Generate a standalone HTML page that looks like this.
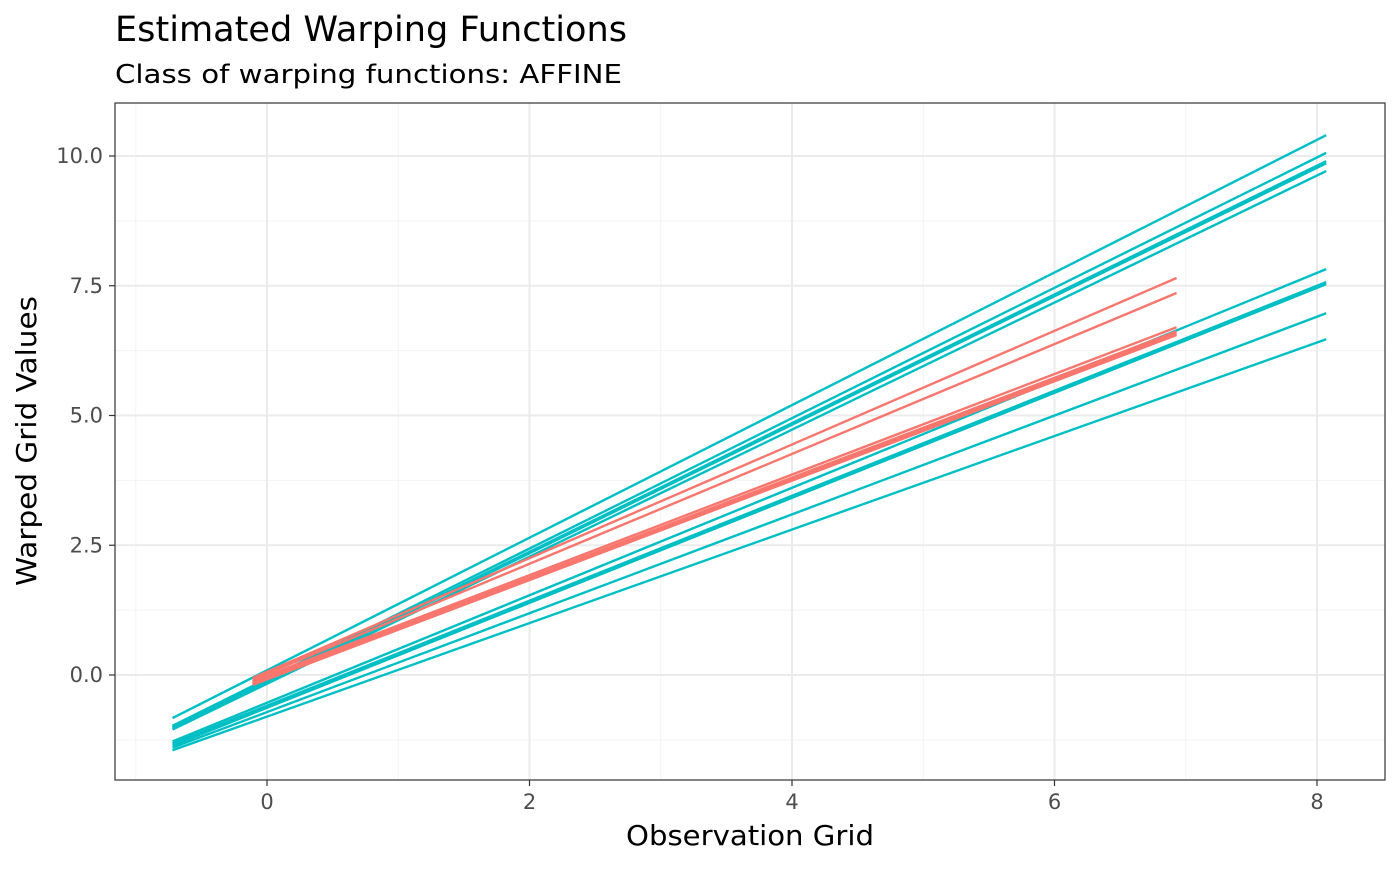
<!DOCTYPE html>
<html><head><meta charset="utf-8"><style>
body{margin:0;background:#fff;font-family:"Liberation Sans","DejaVu Sans",sans-serif}
</style></head><body>
<svg width="1400" height="866" xmlns="http://www.w3.org/2000/svg">
<text x="115" y="41" font-size="35" fill="#000" font-family="DejaVu Sans, sans-serif" textLength="512" lengthAdjust="spacingAndGlyphs">Estimated Warping Functions</text>
<text x="115" y="83" font-size="26" fill="#000" font-family="DejaVu Sans, sans-serif" textLength="507" lengthAdjust="spacingAndGlyphs">Class of warping functions: AFFINE</text>
<g id="grid"></g><g id="lines"></g>
<rect x="115" y="103" width="1270" height="677" fill="none" stroke="#333" stroke-width="1.2"/>
<g id="ticks"></g>
<text x="750" y="845" font-size="28" text-anchor="middle" font-family="DejaVu Sans, sans-serif" textLength="248" lengthAdjust="spacingAndGlyphs">Observation Grid</text>
<text transform="translate(36,441) rotate(-90)" font-size="28" text-anchor="middle" font-family="DejaVu Sans, sans-serif" textLength="290" lengthAdjust="spacingAndGlyphs">Warped Grid Values</text>
</svg>
<script>
const xTicks=[0,2,4,6,8];
const xTickLabels=["0","2","4","6","8"];
const xMinor=[-1,1,3,5,7];
const yTicks=[0,2.5,5,7.5,10];
const yTickLabels=["0.0","2.5","5.0","7.5","10.0"];
const yMinor=[-1.25,1.25,3.75,6.25,8.75];
const cyanX=[-0.72,8.07];
const cyanStart=[-0.83,-0.98,-1.0,-1.02,-1.05,-1.28,-1.32,-1.36,-1.40,-1.45];
const cyanEnd=[10.40,10.06,9.90,9.86,9.71,7.82,7.57,7.53,6.97,6.47];
const redX=[-0.11,6.93];
const redStart=[-0.06,-0.09,-0.12,-0.15,-0.17,-0.19];
const redEnd=[7.65,7.36,6.70,6.62,6.58,6.55];
const X=v=>267+v*131.25, Y=v=>675-v*51.9;
const NS="http://www.w3.org/2000/svg";
function mk(p,t,a){const e=document.createElementNS(NS,t);for(const k in a)e.setAttribute(k,a[k]);document.getElementById(p).appendChild(e);return e;}
xMinor.forEach(v=>{const e=mk('grid','line',{x1:X(v),x2:X(v),y1:103,y2:780,stroke:'#f3f3f3','stroke-width':1});

});
yMinor.forEach(v=>{const e=mk('grid','line',{x1:115,x2:1385,y1:Y(v),y2:Y(v),stroke:'#f3f3f3','stroke-width':1});

});
xTicks.forEach((v,i)=>{const e=mk('grid','line',{x1:X(v),x2:X(v),y1:103,y2:780,stroke:'#ebebeb','stroke-width':2});


const t=mk('ticks','line',{x1:X(v),x2:X(v),y1:780,y2:786,stroke:'#333','stroke-width':1.2});


const l=mk('ticks','text',{x:X(v),y:809,'font-size':21,fill:'#4d4d4d','text-anchor':'middle','font-family':'DejaVu Sans, sans-serif'});l.textContent=xTickLabels[i];

});
yTicks.forEach((v,i)=>{const e=mk('grid','line',{x1:115,x2:1385,y1:Y(v),y2:Y(v),stroke:'#ebebeb','stroke-width':2});


const t=mk('ticks','line',{x1:109,x2:115,y1:Y(v),y2:Y(v),stroke:'#333','stroke-width':1.2});


const l=mk('ticks','text',{x:103,y:Y(v)+7,'font-size':21,fill:'#4d4d4d','text-anchor':'end','font-family':'DejaVu Sans, sans-serif'});l.textContent=yTickLabels[i];

});
cyanStart.forEach((s,i)=>{const e=mk('lines','line',{x1:X(cyanX[0]),y1:Y(s),x2:X(cyanX[1]),y2:Y(cyanEnd[i]),stroke:'#00bfc4','stroke-width':2.4});

});
redStart.forEach((s,i)=>{const e=mk('lines','line',{x1:X(redX[0]),y1:Y(s),x2:X(redX[1]),y2:Y(redEnd[i]),stroke:'#f8766d','stroke-width':2.4});

});
</script>
</body></html>
